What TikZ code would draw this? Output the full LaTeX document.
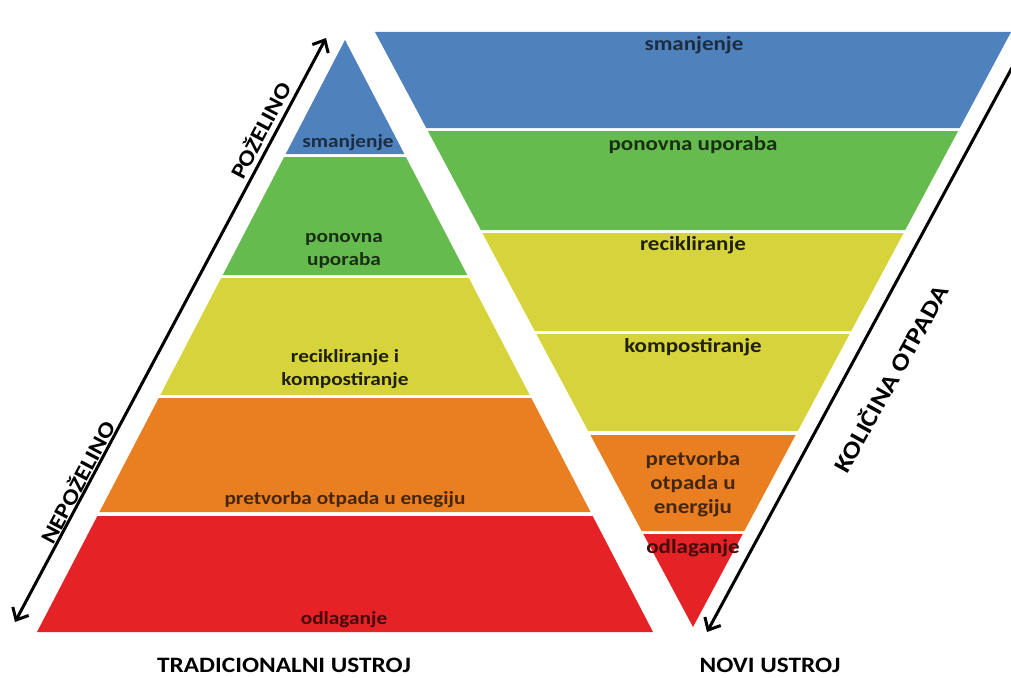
\documentclass[tikz,border=0pt]{standalone}
\usepackage{fontspec}
\setmainfont{Carlito}[FakeStretch=1.15]
\usetikzlibrary{arrows.meta}

\definecolor{bandBlue}{HTML}{4F81BD}
\definecolor{bandGreen}{HTML}{66BB4E}
\definecolor{bandYellow}{HTML}{D6D43A}
\definecolor{bandOrange}{HTML}{EA7F22}
\definecolor{bandRed}{HTML}{E52226}
\colorlet{txtBlue}{bandBlue!35!black}
\colorlet{txtGreen}{bandGreen!25!black}
\colorlet{txtYellow}{bandYellow!15!black}
\colorlet{txtOrange}{bandOrange!30!black}
\colorlet{txtRed}{bandRed!30!black}

\begin{document}
\begin{tikzpicture}[x=1pt, y=-1pt]
    \tikzstyle{text_left} = [font=\fontsize{18.5}{23}\selectfont\bfseries, align=center, inner sep=0pt]
    \tikzstyle{text_right} = [font=\fontsize{20}{24}\selectfont\bfseries, align=center, inner sep=0pt]
    \tikzstyle{text_axis} = [font=\fontsize{22}{26}\selectfont\bfseries, inner sep=0pt]
    \tikzstyle{arrow_black} = [black, line width=3pt, >={Straight Barb[length=10pt,width=18pt]}]

    \useasboundingbox[fill=white] (0,0) rectangle (1011,677);

    % tradicionalni ustroj: apex (345,40), base at y=632
    \foreach \yt/\yb/\col in {40/154/bandBlue, 157/275/bandGreen, 278/395/bandYellow,
                              398/512/bandOrange, 516/632/bandRed}{
        \pgfmathsetmacro\wt{0.5203*(\yt-40)}
        \pgfmathsetmacro\wb{0.5203*(\yb-40)}
        \fill[\col] ({345-\wt},\yt) -- ({345+\wt},\yt) -- ({345+\wb},\yb) -- ({345-\wb},\yb) -- cycle;
    }

    % novi ustroj: top at y=32, apex (693,627)
    \foreach \yt/\yb/\col in {32/128/bandBlue, 131/230/bandGreen, 233/331/bandYellow,
                              334/431/bandYellow, 435/531/bandOrange, 534/627/bandRed}{
        \pgfmathsetmacro\wt{0.5345*(627-\yt)}
        \pgfmathsetmacro\wb{0.5345*(627-\yb)}
        \fill[\col] ({693-\wt},\yt) -- ({693+\wt},\yt) -- ({693+\wb},\yb) -- ({693-\wb},\yb) -- cycle;
    }

    \node[text_left, text=txtBlue] (l1) at (348,143) {smanjenje};
    \node[text_left, text=txtGreen] (l2) at (344,251) {ponovna\\uporaba};
    \node[text_left, text=txtYellow] (l3) at (345,369) {recikliranje i\\kompostiranje};
    \node[text_left, text=txtOrange] (l4) at (345,500) {pretvorba otpada u enegiju};
    \node[text_left, text=txtRed] (l5) at (344,620) {odlaganje};

    \node[text_right, text=txtBlue] (r1) at (694,45) {smanjenje};
    \node[text_right, text=txtGreen] (r2) at (693,145) {ponovna uporaba};
    \node[text_right, text=txtYellow] (r3) at (693,245) {recikliranje};
    \node[text_right, text=txtYellow] (r4) at (693,347) {kompostiranje};
    \node[text_right, text=txtOrange] (r5) at (693,484) {pretvorba\\otpada u\\energiju};
    \node[text_right, text=txtRed] (r6) at (693,548) {odlaganje};

    % strelice
    \coordinate (lowL) at (15,622);
    \coordinate (upL) at (326,38);
    \coordinate (topR) at (1014,64);
    \coordinate (tipR) at (707,632);
    \draw[arrow_black, <->] (lowL) -- (upL);
    \draw[arrow_black, ->] (topR) -- (tipR);

    \node[text_axis, rotate=62] (good) at (260,130) {POŽELINO};
    \node[text_axis, rotate=62] (bad) at (77,482) {NEPOŽELINO};
    \node[text_axis, rotate=61, font=\fontsize{24}{28}\selectfont\bfseries] (amount) at (890,378) {KOLIČINA OTPADA};

    \node[text_axis] (old) at (284,665) {TRADICIONALNI USTROJ};
    \node[text_axis] (new) at (770,665) {NOVI USTROJ};

\end{tikzpicture}
\end{document}
